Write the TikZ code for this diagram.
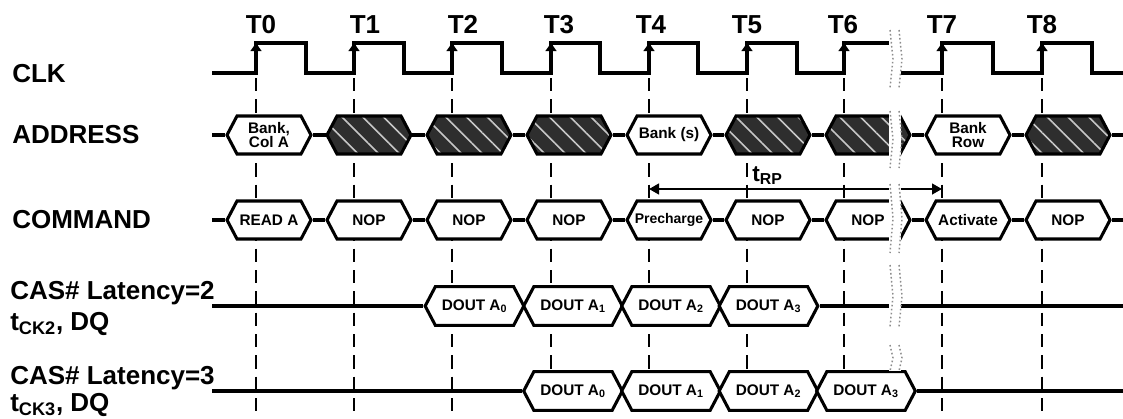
\documentclass[tikz,border=0pt]{standalone}
\usepackage{fontspec}
\setmainfont{Liberation Sans}
\usepackage{tikz}
\usetikzlibrary{shapes.symbols, arrows.meta, patterns.meta}
\tikzstyle{wave}=[line width=2.3pt]
\tikzstyle{grid}=[line width=1.6pt, dash pattern=on 10pt off 6pt]
\tikzstyle{busshape}=[signal, signal to=east and west, signal pointer angle=124.5, draw, line width=2.3pt, minimum width=63pt, minimum height=28.5pt, inner sep=0pt, align=center, font=\fontsize{11.5}{10.5}\selectfont\bfseries]
\tikzstyle{bus}=[busshape, fill=white]
\tikzstyle{dontcare}=[busshape, preaction={fill=black!82}, pattern={Lines[angle=-45, distance=11pt, line width=1.2pt]}, pattern color=black!22]
\tikzstyle{dout}=[bus, minimum width=74pt, minimum height=29pt]
\tikzstyle{rowlabel}=[anchor=base west, inner sep=0pt, font=\fontsize{19.5}{22}\selectfont\bfseries]
\tikzstyle{edgelabel}=[anchor=base, inner sep=0pt, font=\fontsize{19.5}{22}\selectfont\bfseries]
\tikzstyle{rise}=[line width=2.3pt, -{Triangle[length=6pt, width=8pt]}]
\tikzstyle{gap}=[fill=white]
\tikzstyle{gapedge}=[draw=black!45, line width=1.1pt, dash pattern=on 1.2pt off 1.8pt]

\begin{document}
\begin{tikzpicture}[x=0.75pt, y=-0.75pt]
                    \useasboundingbox (0,0) rectangle (1123,418);
                    \node[rowlabel] (clk) at (12,82) {CLK};
                    \node[rowlabel] (addr) at (12,143) {ADDRESS};
                    \node[rowlabel] (cmd) at (12,228) {COMMAND};
                    \node[rowlabel] (cl2) at (10,299) {CAS\# Latency=2};
                    \node[rowlabel] (tck2) at (10,330) {t\textsubscript{CK2}, DQ};
                    \node[rowlabel] (cl3) at (10,384) {CAS\# Latency=3};
                    \node[rowlabel] (tck3) at (10,411) {t\textsubscript{CK3}, DQ};
                    \node[edgelabel] (t0) at (261,33) {T0};
                    \node[edgelabel] (t1) at (365,33) {T1};
                    \node[edgelabel] (t2) at (463,33) {T2};
                    \node[edgelabel] (t3) at (559,33) {T3};
                    \node[edgelabel] (t4) at (651,33) {T4};
                    \node[edgelabel] (t5) at (747,33) {T5};
                    \node[edgelabel] (t6) at (843,33) {T6};
                    \node[edgelabel] (t7) at (942,33) {T7};
                    \node[edgelabel] (t8) at (1042,33) {T8};
                    \draw[wave] (212,73) -- (256,73) -- (256,43) -- (306,43) -- (306,73) -- (354,73) -- (354,43) -- (404,43) -- (404,73)
                        -- (452,73) -- (452,43) -- (502,43) -- (502,73) -- (551,73) -- (551,43) -- (600,43) -- (600,73)
                        -- (649,73) -- (649,43) -- (698,43) -- (698,73) -- (747,73) -- (747,43) -- (797,43) -- (797,73)
                        -- (844,73) -- (844,43) -- (894,43) -- (894,73) -- (942,73) -- (942,43) -- (993,43) -- (993,73)
                        -- (1042,73) -- (1042,43) -- (1092,43) -- (1092,73) -- (1123,73);
                    \draw[rise] (256,73) -- (256,43);
                    \draw[rise] (354,73) -- (354,43);
                    \draw[rise] (452,73) -- (452,43);
                    \draw[rise] (551,73) -- (551,43);
                    \draw[rise] (649,73) -- (649,43);
                    \draw[rise] (747,73) -- (747,43);
                    \draw[rise] (844,73) -- (844,43);
                    \draw[rise] (942,73) -- (942,43);
                    \draw[rise] (1042,73) -- (1042,43);
                    \draw[grid] (256,78) -- (256,418) (354,78) -- (354,418) (452,78) -- (452,418);
                    \draw[grid] (551,78) -- (551,418) (649,78) -- (649,418) (747,78) -- (747,418);
                    \draw[grid] (844,78) -- (844,418) (942,78) -- (942,418) (1042,78) -- (1042,418);
                    \coordinate (ain) at (212,135);
                    \coordinate (aout) at (1123,135);
                    \node[bus] (a0) at (269,135) {Bank,\\Col A};
                    \node[dontcare] (a1) at (369,135) {};
                    \node[dontcare] (a2) at (469,135) {};
                    \node[dontcare] (a3) at (569,135) {};
                    \node[bus] (a4) at (669,135) {Bank (s)};
                    \node[dontcare] (a5) at (768,135) {};
                    \node[dontcare] (a6) at (868,135) {};
                    \node[bus] (a7) at (968,135) {Bank\\Row};
                    \node[dontcare] (a8) at (1068,135) {};
                    \draw[wave] (ain) -- (a0.west) (a0.east) -- (a1.west) (a1.east) -- (a2.west) (a2.east) -- (a3.west) (a3.east) -- (a4.west);
                    \draw[wave] (a4.east) -- (a5.west) (a5.east) -- (a6.west) (a6.east) -- (a7.west) (a7.east) -- (a8.west) (a8.east) -- (aout);
                    \coordinate (cin) at (212,220);
                    \coordinate (cout) at (1123,220);
                    \node[bus] (c0) at (269,220) {READ A};
                    \node[bus] (c1) at (369,220) {NOP};
                    \node[bus] (c2) at (469,220) {NOP};
                    \node[bus] (c3) at (569,220) {NOP};
                    \node[bus] (c4) at (669,220) {\fontsize{10.5}{10.5}\selectfont\makebox[44pt]{Precharge}};
                    \node[bus] (c5) at (768,220) {NOP};
                    \node[bus] (c6) at (868,220) {NOP};
                    \node[bus] (c7) at (968,220) {Activate};
                    \node[bus] (c8) at (1068,220) {NOP};
                    \draw[wave] (cin) -- (c0.west) (c0.east) -- (c1.west) (c1.east) -- (c2.west) (c2.east) -- (c3.west) (c3.east) -- (c4.west);
                    \draw[wave] (c4.east) -- (c5.west) (c5.east) -- (c6.west) (c6.east) -- (c7.west) (c7.east) -- (c8.west) (c8.east) -- (cout);
                    \coordinate (rp0) at (649,189);
                    \coordinate (rp1) at (942,189);
                    \draw[line width=1.7pt, {Triangle[length=7.5pt, width=8pt]}-{Triangle[length=7.5pt, width=8pt]}] (rp0) -- (rp1);
                    \node[anchor=base west, inner sep=0pt, font=\fontsize{17}{20}\selectfont\bfseries] (trp) at (752,181) {t\textsubscript{RP}};
                    \coordinate (q2in) at (212,306);
                    \coordinate (q2out) at (1123,306);
                    \node[dout] (q20) at (474.5,306) {DOUT A\textsubscript{0}};
                    \node[dout] (q21) at (573,306) {DOUT A\textsubscript{1}};
                    \node[dout] (q22) at (671,306) {DOUT A\textsubscript{2}};
                    \node[dout] (q23) at (768.5,306) {DOUT A\textsubscript{3}};
                    \draw[wave] (q2in) -- (q20.west) (q23.east) -- (q2out);
                    \coordinate (q3in) at (212,391);
                    \coordinate (q3out) at (1123,391);
                    \node[dout] (q30) at (573,391) {DOUT A\textsubscript{0}};
                    \node[dout] (q31) at (671,391) {DOUT A\textsubscript{1}};
                    \node[dout] (q32) at (768.5,391) {DOUT A\textsubscript{2}};
                    \node[dout] (q33) at (866,391) {DOUT A\textsubscript{3}};
                    \draw[wave] (q3in) -- (q30.west) (q33.east) -- (q3out);
                    \fill[gap] (889,30) rectangle (901,88);
                    \draw[gapedge] (890,30) -- (893,59) -- (890,88) (899,30) -- (902,59) -- (899,88);
                    \fill[gap] (889,111) rectangle (901,168);
                    \draw[gapedge] (890,111) -- (893,139) -- (890,168) (899,111) -- (902,139) -- (899,168);
                    \fill[gap] (889,184) rectangle (901,253);
                    \draw[gapedge] (890,184) -- (893,218) -- (890,253) (899,184) -- (902,218) -- (899,253);
                    \fill[gap] (889,265) rectangle (901,327);
                    \draw[gapedge] (890,265) -- (893,296) -- (890,327) (899,265) -- (902,296) -- (899,327);
                    \fill[gap] (889,345) rectangle (901,371);
                    \draw[gapedge] (890,345) -- (893,358) -- (890,371) (899,345) -- (902,358) -- (899,371);
                \end{tikzpicture}
\end{document}
